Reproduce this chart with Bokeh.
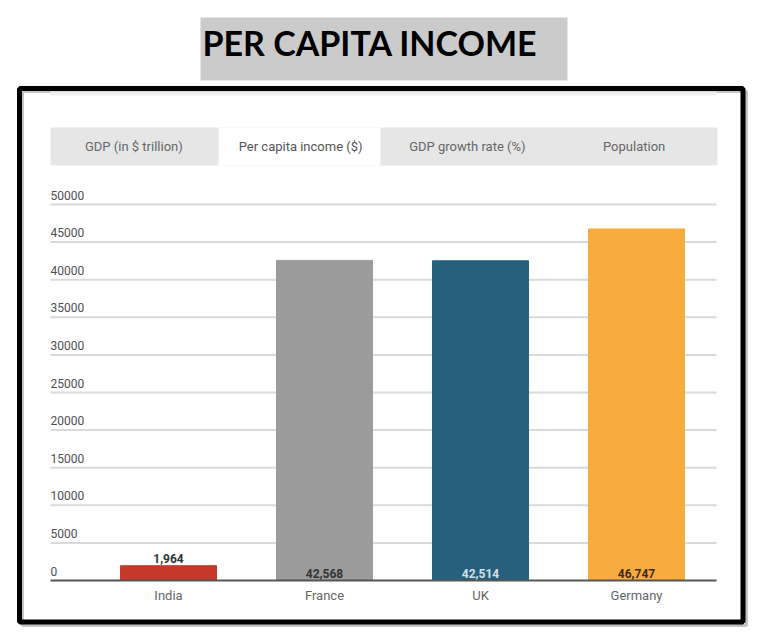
from bokeh.plotting import figure
from bokeh.models import Range1d, ColumnDataSource, BoxAnnotation, Label
from bokeh.core.properties import value
from bokeh.embed import file_html
from bokeh.resources import INLINE

# ---------------- data ----------------
title_text = "PER CAPITA INCOME"
tab_names = ["GDP (in $ trillion)", "Per capita income ($)", "GDP growth rate (%)", "Population"]
active_tab = 1
countries = ["India", "France", "UK", "Germany"]
per_capita_income = [1964, 42568, 42514, 46747]
value_labels = ["1,964", "42,568", "42,514", "46,747"]
y_ticks = [0, 5000, 10000, 15000, 20000, 25000, 30000, 35000, 40000, 45000, 50000]
y_tick_labels = ["0", "5000", "10000", "15000", "20000", "25000", "30000", "35000", "40000", "45000", "50000"]

# ---------------- style / layout ----------------
bar_colors = ["#c5392b", "#9b9b9b", "#25607f", "#f8ac3e"]
value_label_colors = ["#333333", "#333333", "#d3e0e8", "#3d2c0c"]

W, H = 768, 638
plot_l, plot_r, zero_px = 50, 716, 580      # chart area in page pixels
band_px = 156.0                             # pixel width of one category band
first_band_px = 90.0                        # left edge of first band
px_per_unit = 376.0 / 50000.0

# the frame covers the whole page; the data ranges are chosen so that the
# chart area lands where it sits in the reference
x0 = -0.5 - first_band_px / band_px
x_range = Range1d(x0, x0 + W / band_px)
y_range = Range1d(-(H - zero_px) / px_per_unit, zero_px / px_per_unit)

def dx(px):
    return x0 + px / band_px

p = figure(width=W, height=H, output_backend="svg", toolbar_location=None,
           x_range=x_range, y_range=y_range,
           x_axis_location=None, y_axis_location=None,
           min_border_left=0, min_border_right=0, min_border_top=0, min_border_bottom=0)
p.outline_line_color = None
p.background_fill_color = "white"
p.border_fill_color = "white"
p.grid.visible = False

xs = list(range(len(countries)))
n_ticks = len(y_ticks)

# grid lines (above zero)
gsrc = ColumnDataSource(dict(x0=[dx(plot_l)] * (n_ticks - 1), x1=[dx(plot_r)] * (n_ticks - 1),
                             y=y_ticks[1:]))
p.segment(x0="x0", x1="x1", y0="y", y1="y", source=gsrc, line_color="#dadada", line_width=2)

# y tick labels (sit above the grid lines, left aligned)
ysrc = ColumnDataSource(dict(x=[dx(plot_l)] * n_ticks, y=y_ticks, t=y_tick_labels))
p.text(x="x", y="y", text="t", source=ysrc, text_align="left", text_baseline="bottom",
       y_offset=-5, text_font=value("Roboto"), text_font_size="12px", text_color="#4f4f4f")

# bars
bsrc = ColumnDataSource(dict(x=xs, top=per_capita_income, color=bar_colors))
p.vbar(x="x", top="top", bottom=0, width=96 / band_px, color="color", source=bsrc)

# base line (x axis line)
p.segment(x0=[dx(plot_l)], x1=[dx(plot_r)], y0=[y_ticks[0]], y1=[y_ticks[0]],
          line_color="#555555", line_width=2)

# category labels
csrc = ColumnDataSource(dict(x=xs, y=[y_ticks[0]] * len(xs), t=countries))
p.text(x="x", y="y", text="t", source=csrc, text_align="center", text_baseline="top",
       y_offset=7, text_font=value("Roboto"), text_font_size="13px", text_color="#666666")

# value labels
label_y = [v if v < 5000 else 0 for v in per_capita_income]
vsrc = ColumnDataSource(dict(x=xs, y=label_y, t=value_labels, c=value_label_colors))
p.text(x="x", y="y", text="t", source=vsrc, text_align="center", text_baseline="bottom",
       y_offset=-3, text_font=value("Roboto"), text_font_style="bold",
       text_font_size="12px", text_color="c")

def box(l, r, t, b, **kw):
    a = BoxAnnotation(left=l, right=r, top=t, bottom=b,
                      left_units="canvas", right_units="canvas",
                      top_units="canvas", bottom_units="canvas", **kw)
    p.add_layout(a)
    return a

# title box + title
box(200, 567, 17, 80, fill_color="#cbcbcb", fill_alpha=1, line_color=None)
p.add_layout(Label(x=202, y=42, x_units="canvas", y_units="canvas", text=title_text,
                   text_font="Lato", text_font_style="bold", text_font_size="34px",
                   text_color="#000000", text_baseline="middle", text_align="left"))

# frame shadow + black frame + faint top strip
box(22, 746, 91, 625, fill_alpha=0, line_color="#c4c4c4", line_width=3, line_alpha=1)
box(19, 742.5, 88, 621.5, fill_alpha=0, line_color="#000000", line_width=5, line_alpha=1)
box(50, 716, 91, 95, fill_color="#efefef", fill_alpha=1, line_color=None)

# tabs
box(50, 717, 127, 165, fill_color="#e6e6e6", fill_alpha=1, line_color=None)
tab_w = (717 - 50) / len(tab_names)
box(218, 380, 127, 165, fill_color="#ffffff", fill_alpha=1, line_color=None)
for i, name in enumerate(tab_names):
    p.add_layout(Label(x=50 + tab_w * (i + 0.5), y=146, x_units="canvas", y_units="canvas",
                       text=name, text_font="Roboto", text_font_size="13px",
                       text_color="#555555" if i == active_tab else "#666666",
                       text_align="center", text_baseline="middle"))

open("out.html", "w").write(file_html(p, INLINE))
